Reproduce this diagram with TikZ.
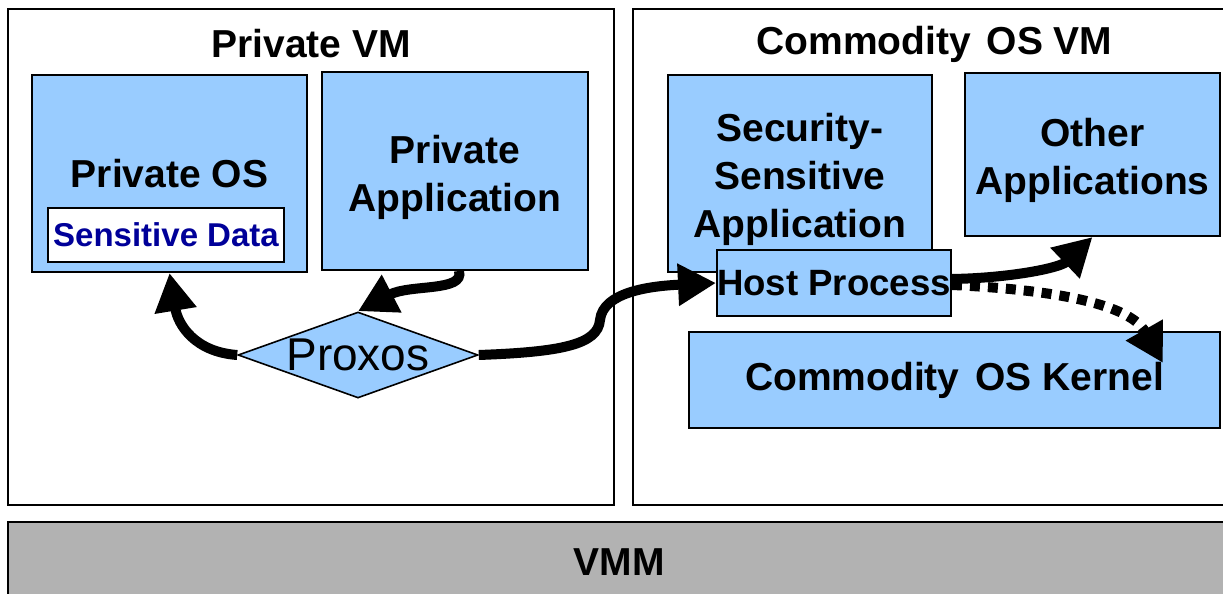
\documentclass[tikz,border=0pt]{standalone}
\usepackage{fontspec}
\setmainfont{Liberation Sans}
\usetikzlibrary{arrows.meta,shapes.geometric}
\definecolor{boxblue}{HTML}{99CCFF}
\definecolor{datablue}{HTML}{000099}
\definecolor{vmmgray}{HTML}{B2B2B2}
\newcommand{\topstrut}{\rule{0pt}{20.5pt}}

\begin{document}
\begin{tikzpicture}[x=0.5pt, y=-0.5pt,
 font=\fontsize{19.5}{24}\selectfont\bfseries,
 vm/.style={draw, line width=1pt, inner sep=0pt},
 blk/.style={draw, line width=1pt, fill=boxblue, align=center, inner sep=0pt},
 flow/.style={line width=5pt, -{Triangle[length=19pt, width=20pt]}},
 maybe/.style={flow, dash pattern=on 5pt off 4pt}]

 \useasboundingbox (0,0) rectangle (1223,594);

 % --- Virtual machines ---
 \node[vm, minimum width=303pt, minimum height=248pt] (privvm) at (311,257) {};
 \node (privtitle) at (311,44) {Private VM};
 \node[vm, minimum width=296.5pt, minimum height=248pt] (comvm) at (929.5,257) {};
 \node (comtitle) at (934.5,44) {Commodity\hspace{2.5pt} OS VM};
 \node[vm, fill=vmmgray, minimum width=611pt, minimum height=40pt] (vmm) at (619,562) {VMM};

 % --- Private VM ---
 \node[blk, minimum width=137.5pt, minimum height=98.5pt] (privos) at (169.5,173.5) {Private OS};
 \node[draw, line width=1pt, fill=white, text=datablue, font=\fontsize{16.5}{20}\selectfont\bfseries,
  minimum width=118pt, minimum height=27pt, inner sep=0pt] (sensdata) at (166,235) {Sensitive Data};
 \node[blk, minimum width=133pt, minimum height=99pt] (privapp) at (455,171) {\topstrut Private\\Application};
 \node[blk, shape=diamond, line width=0.8pt, minimum width=120pt, minimum height=43pt,
  label={[font=\fontsize{23}{28}\selectfont]center:Proxos}] (proxos) at (358,355) {};

 % --- Commodity OS VM ---
 \node[blk, minimum width=132pt, minimum height=98.5pt] (secapp) at (800,173.5) {\topstrut Security-\\Sensitive\\Application};
 \node[blk, minimum width=127.5pt, minimum height=81.5pt] (otherapp) at (1092.5,154.5) {\topstrut Other\\Applications};
 \node[blk, font=\fontsize{18.3}{22}\selectfont\bfseries, minimum width=116pt, minimum height=33pt] (hostp) at (834,283) {Host Process};
 \node[blk, minimum width=265.5pt, minimum height=48pt] (kernel) at (954.5,380) {Commodity\hspace{2.5pt} OS Kernel};

 % --- Flows ---
 \draw[flow] (proxos.west) .. controls (195,352) and (178,325) .. (privos.south);
 \draw[flow] ([xshift=2pt]privapp.south) .. controls (465,292) and (410,284) .. (proxos.north);
 \draw[flow] (proxos.east) .. controls (560,352) and (598,345) .. (600,320)
  .. controls (603,292) and (650,286) .. (hostp.west);
 \draw[flow] ([yshift=2pt]hostp.east) .. controls (1010,278) and (1060,268) .. (otherapp.south);
 \draw[maybe] ([yshift=-1pt]hostp.east) .. controls (1060,290) and (1130,305) .. ([xshift=-29pt,yshift=-16pt]kernel.north east);
\end{tikzpicture}
\end{document}
